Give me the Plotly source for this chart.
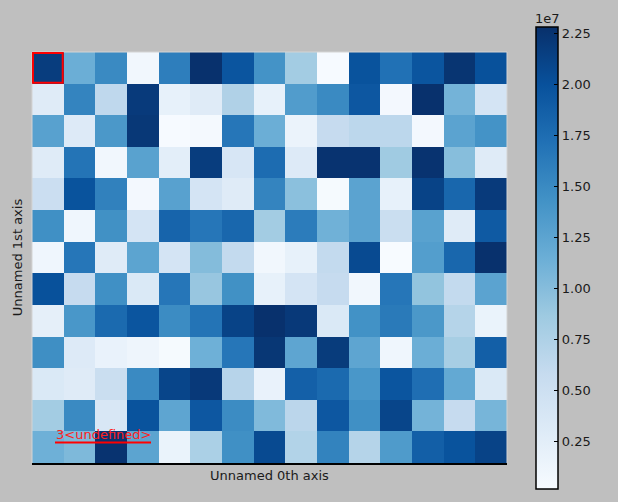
import plotly.graph_objects as go

# values in units of 1e7, rows top -> bottom
row_00 = [2.17, 1.15, 1.50, 0.08, 1.60, 2.27, 1.96, 1.42, 0.83, 0.03, 1.98, 1.71, 1.96, 2.24, 2.00]
row_01 = [0.29, 1.55, 0.63, 2.19, 0.20, 0.29, 0.74, 0.20, 1.33, 1.50, 1.94, 0.06, 2.27, 1.10, 0.42]
row_02 = [1.28, 0.31, 1.37, 2.21, 0.03, 0.05, 1.67, 1.15, 0.15, 0.58, 0.65, 0.65, 0.06, 1.26, 1.42]
row_03 = [0.29, 1.69, 0.08, 1.27, 0.24, 2.17, 0.38, 1.76, 0.31, 2.25, 2.25, 0.85, 2.25, 0.99, 0.29]
row_04 = [0.52, 1.98, 1.58, 0.06, 1.28, 0.42, 0.29, 1.55, 0.97, 0.04, 1.26, 0.20, 2.12, 1.80, 2.19]
row_05 = [1.45, 0.10, 1.44, 0.42, 1.83, 1.67, 1.80, 0.83, 1.62, 1.12, 1.26, 0.53, 1.27, 0.29, 1.92]
row_06 = [0.10, 1.67, 0.29, 1.25, 0.42, 1.01, 0.60, 0.08, 0.20, 0.60, 2.06, 0.02, 1.31, 1.80, 2.27]
row_07 = [2.00, 0.58, 1.45, 0.34, 1.67, 0.90, 1.44, 0.20, 0.42, 0.58, 0.08, 1.67, 0.93, 0.60, 1.26]
row_08 = [0.22, 1.38, 1.78, 1.96, 1.48, 1.69, 2.12, 2.27, 2.20, 0.34, 1.43, 1.64, 1.37, 0.70, 0.16]
row_09 = [1.46, 0.31, 0.17, 0.12, 0.04, 1.13, 1.67, 2.22, 1.24, 2.18, 1.24, 0.10, 1.15, 0.80, 1.87]
row_10 = [0.34, 0.29, 0.53, 1.50, 2.10, 2.20, 0.69, 0.17, 1.86, 1.78, 1.38, 1.96, 1.74, 1.20, 0.34]
row_11 = [0.83, 1.50, 0.37, 1.98, 1.24, 1.94, 1.48, 1.03, 0.66, 1.94, 1.45, 2.10, 1.10, 0.58, 1.08]
row_12 = [1.13, 1.04, 2.25, 1.25, 0.16, 0.77, 1.45, 2.06, 0.72, 1.56, 0.70, 1.34, 1.87, 1.98, 2.12]

rows = [row_00, row_01, row_02, row_03, row_04, row_05, row_06,
        row_07, row_08, row_09, row_10, row_11, row_12]
scale = 1e7
z = [[v * scale for v in r] for r in rows]

z_min = 0.015e7
z_max = 2.28e7
cbar_ticks = [0.25, 0.50, 0.75, 1.00, 1.25, 1.50, 1.75, 2.00, 2.25]
cbar_ticktext = ["%.2f" % t for t in cbar_ticks]

highlight_cell = (0, 0)  # (column, row)
label_text = "3&lt;undefined&gt;"
x_title = "Unnamed 0th axis"
y_title = "Unnamed 1st axis"

blues = [
    [0.0, "#f7fbff"], [0.125, "#deebf7"], [0.25, "#c6dbef"], [0.375, "#9ecae1"],
    [0.5, "#6baed6"], [0.625, "#4292c6"], [0.75, "#2171b5"], [0.875, "#08519c"],
    [1.0, "#08306b"],
]

ncols = len(rows[0])
nrows = len(rows)

W, H = 618, 502
ml, mr, mt, mb = 32, 111, 52, 39
pw = W - ml - mr
ph = H - mt - mb

fig = go.Figure(go.Heatmap(
    z=z,
    x=list(range(ncols)),
    y=list(range(nrows)),
    colorscale=blues,
    zmin=z_min, zmax=z_max,
    showscale=True,
    colorbar=dict(
        x=(536.5 - ml) / pw, xanchor="left", xpad=0, ypad=0,
        y=(mt + ph - 258) / ph, yanchor="middle",
        len=462, lenmode="pixels",
        thickness=22, thicknessmode="pixels",
        outlinewidth=1.5, outlinecolor="black",
        tickmode="array", tickvals=[t * scale for t in cbar_ticks],
        ticktext=cbar_ticktext,
        ticks="inside", ticklen=4, tickwidth=1, tickcolor="black",
        tickfont=dict(family="DejaVu Sans", size=13, color="#1a1a1a"),
    ),
))

fig.update_xaxes(
    range=[-0.5, ncols - 0.5], showticklabels=False, ticks="", showgrid=False,
    zeroline=False, showline=True, linecolor="black", linewidth=2,
    title=dict(text=x_title, font=dict(family="DejaVu Sans", size=13, color="#1a1a1a"), standoff=7),
)
fig.update_yaxes(
    range=[nrows - 0.5, -0.5], showticklabels=False, ticks="", showgrid=False,
    zeroline=False, showline=False,
    title=dict(text=y_title, font=dict(family="DejaVu Sans", size=13, color="#1a1a1a"), standoff=5),
)

border = "#d4d4d4"
fig.add_shape(type="line", xref="paper", yref="paper", x0=0, x1=1, y0=1, y1=1,
              line=dict(color=border, width=1))
fig.add_shape(type="line", xref="paper", yref="paper", x0=0, x1=0, y0=0, y1=1,
              line=dict(color=border, width=1))
fig.add_shape(type="line", xref="paper", yref="paper", x0=1, x1=1, y0=0, y1=1,
              line=dict(color=border, width=1))

hc, hr = highlight_cell
fig.add_shape(type="rect", xref="x", yref="y", x0=hc - 0.5 + 0.03, x1=hc + 0.5 - 0.03,
              y0=hr - 0.5 + 0.03, y1=hr + 0.5 - 0.03, line=dict(color="#ff0000", width=2))

# red label with underline
fig.add_annotation(
    text=label_text, xref="paper", yref="paper",
    x=(54 - ml) / pw, y=(mt + ph - 434) / ph, xanchor="left", yanchor="middle",
    showarrow=False, font=dict(family="DejaVu Sans", size=13, color="#ff2020"),
)
fig.add_shape(type="line", xref="paper", yref="paper",
              x0=(55 - ml) / pw, x1=(151 - ml) / pw,
              y0=(mt + ph - 442.5) / ph, y1=(mt + ph - 442.5) / ph,
              line=dict(color="#ff0000", width=2))

fig.add_annotation(
    text="1e7", xref="paper", yref="paper",
    x=(547.5 - ml) / pw, y=(mt + ph - 19) / ph, xanchor="center", yanchor="middle",
    showarrow=False, font=dict(family="DejaVu Sans", size=13, color="#1a1a1a"),
)

fig.update_layout(
    width=W, height=H,
    margin=dict(l=ml, r=mr, t=mt, b=mb, pad=0),
    paper_bgcolor="#bfbfbf", plot_bgcolor="#bfbfbf",
    showlegend=False,
)

fig.write_html(
    "out.html",
    config={"displayModeBar": False},
    post_script="document.body.style.margin='0';document.body.style.background='#bfbfbf';",
)
